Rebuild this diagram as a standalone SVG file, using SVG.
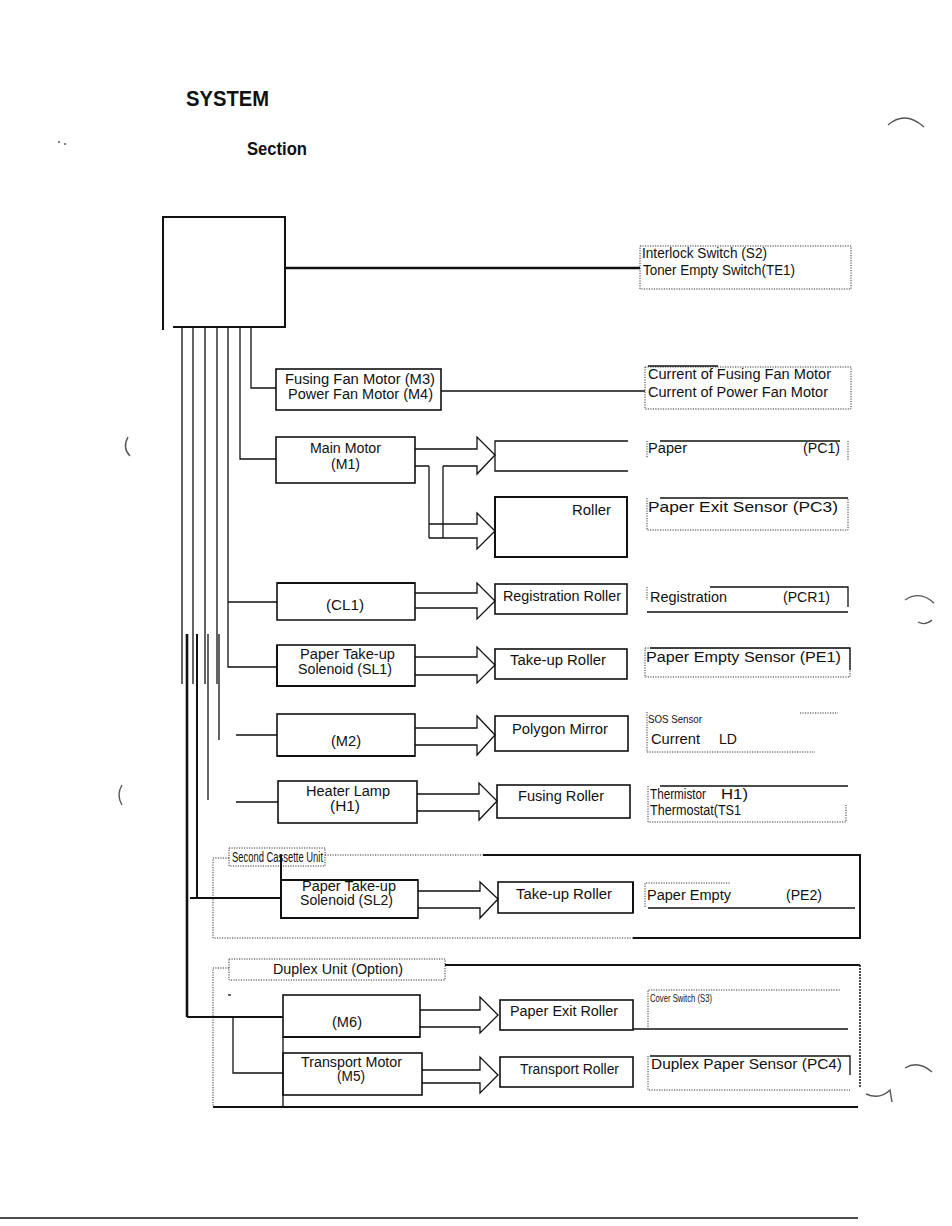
<svg xmlns="http://www.w3.org/2000/svg" width="952" height="1226" viewBox="0 0 952 1226">
<style>
.bx{fill:none;stroke:#111;stroke-width:1.6}
.w{fill:none;stroke:#111;stroke-width:1.3}
.wm{fill:none;stroke:#111;stroke-width:2}
.wt{fill:none;stroke:#111;stroke-width:2.6}
.dt{fill:none;stroke:#333;stroke-width:1;stroke-dasharray:1.2 1.3}
.dk{fill:none;stroke:#222;stroke-width:1.6;stroke-dasharray:2 1}
.ar{fill:none;stroke:#111;stroke-width:1.3;stroke-linejoin:miter}
.t{font-family:"Liberation Sans",Arial,sans-serif;font-size:14px;fill:#111}
.ts{font-family:"Liberation Sans",Arial,sans-serif;font-size:11px;fill:#111}
.h{font-family:"Liberation Sans",Arial,sans-serif;font-weight:bold;fill:#111}
.nz{fill:none;stroke:#555;stroke-width:1.4}
</style>
<rect width="952" height="1226" fill="#fff"/>

<g id="title">
<text class="h" x="186" y="106" font-size="22" textLength="83" lengthAdjust="spacingAndGlyphs">SYSTEM</text>
<text class="h" x="247" y="155" font-size="18" textLength="60" lengthAdjust="spacingAndGlyphs">Section</text>
</g>

<g id="noise">
<path class="nz" d="M888 125 Q905 110 924 127"/>
<path class="nz" d="M905 600 Q920 590 934 603"/>
<path class="nz" d="M918 622 Q925 626 932 620"/>
<path class="nz" d="M905 1068 Q918 1060 932 1072"/>
<path class="nz" d="M866 1094 Q880 1100 890 1090 L892 1102"/>
<path class="nz" d="M128 437 Q122 448 130 456" stroke-width="1"/>
<path class="nz" d="M122 785 Q116 795 122 805" stroke-width="1"/>
<path class="nz" d="M58 142 h2 M64 144 h2" stroke-width="1"/>
</g>

<g id="control-box">
<path class="wm" d="M163 217 H285 V327 H173 M163 216 V330"/>
</g>

<g id="interlock">
<rect class="dt" x="640" y="246" width="211" height="43"/>
<text class="t" x="642" y="258" font-size="13.5" textLength="125" lengthAdjust="spacingAndGlyphs">Interlock Switch (S2)</text>
<text class="t" x="643" y="275" font-size="13.5" textLength="152" lengthAdjust="spacingAndGlyphs">Toner Empty Switch(TE1)</text>
</g>

<g id="fan-motors">
<rect class="bx" x="276" y="369" width="165" height="41"/>
<text class="t" x="285" y="384" font-size="13" textLength="150" lengthAdjust="spacingAndGlyphs">Fusing Fan Motor (M3)</text>
<text class="t" x="288" y="399" font-size="13" textLength="145" lengthAdjust="spacingAndGlyphs">Power Fan Motor (M4)</text>
</g>
<g id="fan-current">
<rect class="dt" x="645" y="367" width="206" height="42"/>
<path class="w" d="M648 366 H718"/>
<text class="t" x="648" y="379" font-size="14.5" textLength="183" lengthAdjust="spacingAndGlyphs">Current of Fusing Fan Motor</text>
<text class="t" x="648" y="397" font-size="14.5" textLength="180" lengthAdjust="spacingAndGlyphs">Current of Power Fan Motor</text>
</g>

<g id="main-motor">
<rect class="bx" x="276" y="437" width="139" height="46"/>
<text class="t" x="310" y="453" textLength="71" lengthAdjust="spacingAndGlyphs">Main Motor</text>
<text class="t" x="331" y="469" textLength="29" lengthAdjust="spacingAndGlyphs">(M1)</text>
</g>
<g id="upper-roller">
<path class="w" d="M628 441 H495 V471 H628"/>
</g>
<g id="pc1">
<path class="w" d="M660 441 H840"/>
<path class="dt" d="M647 441 V458 M848 441 V461"/>
<text class="t" x="648" y="453" font-size="15" textLength="39" lengthAdjust="spacingAndGlyphs">Paper</text>
<text class="t" x="803" y="453" font-size="15" textLength="37" lengthAdjust="spacingAndGlyphs">(PC1)</text>
</g>
<g id="roller">
<rect class="wm" x="495" y="497" width="132" height="60"/>
<text class="t" x="572" y="515" textLength="39" lengthAdjust="spacingAndGlyphs">Roller</text>
</g>
<g id="pc3">
<path class="dt" d="M647 498 V530 H848 V498"/>
<path class="w" d="M660 498 H848"/>
<text class="t" x="648" y="512" font-size="16" textLength="190" lengthAdjust="spacingAndGlyphs">Paper Exit Sensor (PC3)</text>
</g>

<g id="cl1">
<path class="bx" d="M277 583 H415 V620 H277 Z"/>
<path class="wm" d="M277 583 H415"/>
<text class="t" x="326" y="610" textLength="38" lengthAdjust="spacingAndGlyphs">(CL1)</text>
</g>
<g id="registration-roller">
<rect class="bx" x="495" y="584" width="132" height="30"/>
<text class="t" x="503" y="601" textLength="118" lengthAdjust="spacingAndGlyphs">Registration Roller</text>
</g>
<g id="pcr1">
<path class="dt" d="M647 587 V600"/>
<path class="w" d="M710 587 H848 V607 M647 612 H848"/>
<text class="t" x="650" y="602" font-size="14.5" textLength="77" lengthAdjust="spacingAndGlyphs">Registration</text>
<text class="t" x="783" y="602" font-size="14.5" textLength="47" lengthAdjust="spacingAndGlyphs">(PCR1)</text>
</g>

<g id="sl1">
<rect class="bx" x="277" y="645" width="138" height="41"/>
<path class="wm" d="M277 645 V686 H415"/>
<text class="t" x="300" y="659" textLength="95" lengthAdjust="spacingAndGlyphs">Paper Take-up</text>
<text class="t" x="298" y="674" textLength="94" lengthAdjust="spacingAndGlyphs">Solenoid (SL1)</text>
</g>
<g id="takeup-roller-1">
<rect class="bx" x="495" y="649" width="132" height="30"/>
<text class="t" x="510" y="665" textLength="96" lengthAdjust="spacingAndGlyphs">Take-up Roller</text>
</g>
<g id="pe1">
<rect class="dt" x="645" y="648" width="205" height="29"/>
<path class="w" d="M650 648 H850 V670"/>
<text class="t" x="646" y="662" font-size="16" textLength="195" lengthAdjust="spacingAndGlyphs">Paper Empty Sensor (PE1)</text>
</g>

<g id="m2">
<rect class="bx" x="277" y="714" width="138" height="42"/>
<path class="wm" d="M277 756 H415"/>
<text class="t" x="331" y="746" textLength="30" lengthAdjust="spacingAndGlyphs">(M2)</text>
</g>
<g id="polygon-mirror">
<rect class="bx" x="495" y="716" width="133" height="35"/>
<text class="t" x="512" y="734" textLength="96" lengthAdjust="spacingAndGlyphs">Polygon Mirror</text>
</g>
<g id="sos">
<path class="dt" d="M647 712 V752 H815 M800 713 H838"/>
<text class="ts" x="648" y="723" font-size="11" textLength="54" lengthAdjust="spacingAndGlyphs">SOS Sensor</text>
<text class="t" x="651" y="744" font-size="15" textLength="49" lengthAdjust="spacingAndGlyphs">Current</text>
<text class="t" x="719" y="744" font-size="15" textLength="18" lengthAdjust="spacingAndGlyphs">LD</text>
</g>

<g id="heater-lamp">
<rect class="bx" x="278" y="781" width="139" height="42"/>
<text class="t" x="306" y="796" textLength="84" lengthAdjust="spacingAndGlyphs">Heater Lamp</text>
<text class="t" x="330" y="811" textLength="30" lengthAdjust="spacingAndGlyphs">(H1)</text>
</g>
<g id="fusing-roller">
<rect class="bx" x="497" y="785" width="133" height="33"/>
<text class="t" x="518" y="801" textLength="86" lengthAdjust="spacingAndGlyphs">Fusing Roller</text>
</g>
<g id="thermistor">
<path class="dt" d="M648 786 V822 H846 V805"/>
<path class="w" d="M660 786 H848"/>
<text class="t" x="650" y="799" font-size="13.5" textLength="56" lengthAdjust="spacingAndGlyphs">Thermistor</text>
<text class="t" x="721" y="799" font-size="13.5" textLength="27" lengthAdjust="spacingAndGlyphs">H1)</text>
<text class="t" x="650" y="815" font-size="13.5" textLength="91" lengthAdjust="spacingAndGlyphs">Thermostat(TS1</text>
</g>

<g id="second-cassette">
<path class="dt" d="M229 858 H213 V938 H633"/>
<rect class="dt" x="229" y="848" width="96" height="18"/>
<path class="dt" d="M325 855 H483"/>
<path class="wm" d="M483 855 H860 V938 H633"/>
<text class="t" x="232" y="862" font-size="12" textLength="91" lengthAdjust="spacingAndGlyphs">Second Cassette Unit</text>
</g>
<g id="sl2">
<rect class="bx" x="281" y="880" width="137" height="38"/>
<path class="wm" d="M281 855 V918 H418 M281 880 H418"/>
<text class="t" x="302" y="891" textLength="94" lengthAdjust="spacingAndGlyphs">Paper Take-up</text>
<text class="t" x="300" y="905" textLength="93" lengthAdjust="spacingAndGlyphs">Solenoid (SL2)</text>
</g>
<g id="takeup-roller-2">
<rect class="bx" x="498" y="882" width="135" height="31"/>
<path class="wm" d="M633 882 V913"/>
<text class="t" x="516" y="899" textLength="96" lengthAdjust="spacingAndGlyphs">Take-up Roller</text>
</g>
<g id="pe2">
<path class="dt" d="M645 907 V883 H730"/>
<path class="w" d="M648 908 H855"/>
<text class="t" x="647" y="900" font-size="14.5" textLength="84" lengthAdjust="spacingAndGlyphs">Paper Empty</text>
<text class="t" x="786" y="900" font-size="14.5" textLength="36" lengthAdjust="spacingAndGlyphs">(PE2)</text>
</g>

<g id="duplex-unit">
<path class="dt" d="M229 968 H213 V1107"/>
<path class="dk" d="M860 965 V1087"/>
<rect class="dt" x="229" y="959" width="216" height="21"/>
<path class="wm" d="M445 965 H860 M213 1107 H858"/>
<path class="w" d="M228 995 h3"/>
<text class="t" x="273" y="974" font-size="13.5" textLength="130" lengthAdjust="spacingAndGlyphs">Duplex Unit (Option)</text>
</g>
<g id="m6">
<rect class="bx" x="283" y="995" width="137" height="42"/>
<path class="wm" d="M283 1037 H420"/>
<text class="t" x="332" y="1027" textLength="30" lengthAdjust="spacingAndGlyphs">(M6)</text>
</g>
<g id="paper-exit-roller">
<rect class="bx" x="500" y="1000" width="133" height="30"/>
<text class="t" x="510" y="1016" textLength="108" lengthAdjust="spacingAndGlyphs">Paper Exit Roller</text>
</g>
<g id="cover-switch">
<path class="dt" d="M648 1027 V990 H840"/>
<path class="w" d="M633 1029 H848"/>
<text class="ts" x="650" y="1002" font-size="11" textLength="62" lengthAdjust="spacingAndGlyphs">Cover Switch (S3)</text>
</g>
<g id="m5">
<rect class="bx" x="283" y="1053" width="139" height="42"/>
<text class="t" x="301" y="1067" textLength="101" lengthAdjust="spacingAndGlyphs">Transport Motor</text>
<text class="t" x="337" y="1081" textLength="28" lengthAdjust="spacingAndGlyphs">(M5)</text>
</g>
<g id="transport-roller">
<rect class="bx" x="500" y="1057" width="133" height="30"/>
<text class="t" x="520" y="1074" textLength="99" lengthAdjust="spacingAndGlyphs">Transport Roller</text>
</g>
<g id="pc4">
<path class="dt" d="M648 1056 V1090 H850"/>
<path class="w" d="M650 1056 H850 V1075"/>
<text class="t" x="651" y="1069" font-size="16" textLength="191" lengthAdjust="spacingAndGlyphs">Duplex Paper Sensor (PC4)</text>
</g>

<g id="connectors">
<path class="wt" d="M286 268 H640"/>
<path class="w" d="M251 327 V388 H276"/>
<path class="w" d="M441 391 H645"/>
<path class="w" d="M240 327 V459 H276"/>
<path class="w" d="M228 327 V667 H277 M228 602 H277"/>
<path class="w" d="M182 327 V684 M193 327 V684 M205 327 V684 M217 327 V684"/>
<path class="wt" d="M187 634 V1017"/>
<path class="wm" d="M197 634 V898 M190 898 H281"/>
<path class="w" d="M208 634 V800 M219 634 V740"/>
<path class="w" d="M236 735 H277 M236 802 H278"/>
<path class="wm" d="M187 1017 H283"/>
<path class="w" d="M233 1017 V1073 H283 M283 1037 V1107"/>
<path class="ar" d="M415 449 H477 V437 L495 455 L477 474 V466 H443 M429 466 H415"/>
<path class="ar" d="M429 466 V538 M443 466 V538 M429 524 H477 V513 L495 531 L477 549 V538 H429"/>
<path class="ar" d="M415 593 H477 V583 L495 601 L477 619 V608 H415"/>
<path class="ar" d="M415 657 H477 V647 L495 665 L477 683 V675 H415"/>
<path class="ar" d="M415 728 H477 V716 L495 735 L477 755 V745 H415"/>
<path class="ar" d="M417 794 H479 V783 L497 801 L479 820 V811 H417"/>
<path class="ar" d="M418 891 H480 V882 L498 899 L480 918 V908 H418"/>
<path class="ar" d="M420 1010 H480 V997 L498 1015 L480 1033 V1027 H420"/>
<path class="ar" d="M422 1070 H480 V1057 L498 1075 L480 1093 V1083 H422"/>
</g>

<g id="footer">
<path class="w" d="M0 1218 H858" stroke-width="1.5"/>
</g>
</svg>
